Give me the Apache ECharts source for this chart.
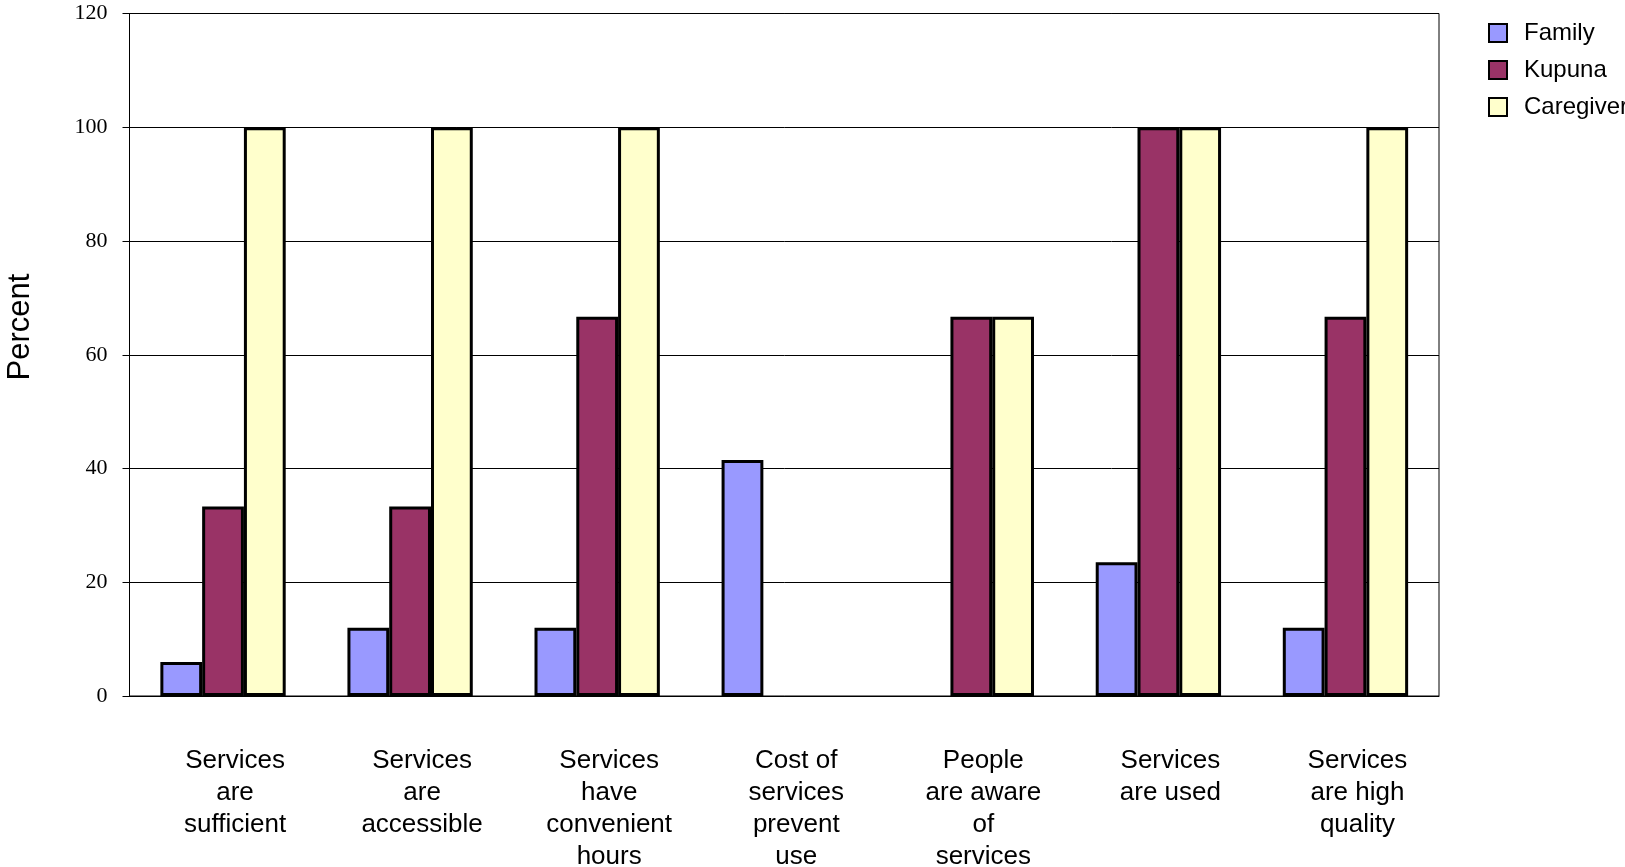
<!DOCTYPE html>
<html>
<head>
<meta charset="utf-8">
<script src="https://cdn.jsdelivr.net/npm/echarts@6/dist/echarts.min.js"></script>
<style>
html,body{margin:0;padding:0;background:#fff;}
#chart{width:1625px;height:867px;}
</style>
</head>
<body>
<div id="chart"></div>
<script>
const categories = [
  "Services\nare\nsufficient",
  "Services\nare\naccessible",
  "Services\nhave\nconvenient\nhours",
  "Cost of\nservices\nprevent\nuse",
  "People\nare aware\nof\nservices",
  "Services\nare used",
  "Services\nare high\nquality"
];
const seriesNames = ["Family", "Kupuna", "Caregiver"];
const familyValues = [6, 12, 12, 41.5, null, 23.5, 12];
const kupunaValues = [33.3, 33.3, 66.7, null, 66.7, 100, 66.7];
const caregiverValues = [100, 100, 100, null, 66.7, 100, 100];
const yTicks = [0, 20, 40, 60, 80, 100, 120];
const colors = ["#9999FF", "#993366", "#FFFFCC"];

const sans = "'Liberation Sans', Arial, sans-serif";
const serif = "'Liberation Serif', 'Times New Roman', serif";

const chart = echarts.init(document.getElementById('chart'), null, {renderer: 'canvas'});
const values = [familyValues, kupunaValues, caregiverValues];

chart.setOption({
  animation: false,
  backgroundColor: '#fff',
  grid: {
    left: 129.5, right: 186, top: 13.5, bottom: 171,
    containLabel: false,
    outerBoundsMode: 'none',
    show: true, borderColor: '#000', borderWidth: 1
  },
  legend: {
    orient: 'vertical',
    left: 1483, top: 16,
    itemWidth: 18, itemHeight: 18, itemGap: 13,
    icon: 'rect',
    itemStyle: {borderColor: '#000', borderWidth: 2},
    textStyle: {fontFamily: sans, fontSize: 24, color: '#000', padding: [0, 0, 0, 12]},
    data: seriesNames
  },
  graphic: [{
    type: 'text',
    x: 20, y: 327,
    rotation: Math.PI / 2,
    style: {
      text: 'Percent', fontFamily: sans, fontSize: 31, fill: '#000',
      textAlign: 'center', textVerticalAlign: 'middle'
    }
  }],
  xAxis: {
    type: 'category',
    data: categories,
    axisLine: {lineStyle: {color: '#000', width: 1}},
    axisTick: {show: false},
    axisLabel: {
      interval: 0, margin: 49, color: '#000',
      fontFamily: sans, fontSize: 26, lineHeight: 32, align: 'center',
      padding: [0, 0, 0, 24]
    }
  },
  yAxis: {
    type: 'value',
    min: yTicks[0], max: yTicks[yTicks.length - 1], interval: yTicks[1] - yTicks[0],
    axisLine: {show: true, lineStyle: {color: '#000', width: 1}},
    axisTick: {show: true, length: 7, lineStyle: {color: '#000'}},
    axisLabel: {margin: 22, color: '#000', fontFamily: serif, fontSize: 22},
    splitLine: {show: true, lineStyle: {color: '#000', width: 1}}
  },
  series: seriesNames.map((name, i) => ({
    name: name,
    type: 'bar',
    data: values[i],
    barGap: '0%',
    barCategoryGap: '33%',
    itemStyle: {color: colors[i], borderColor: '#000', borderWidth: 3}
  }))
});
</script>
</body>
</html>
